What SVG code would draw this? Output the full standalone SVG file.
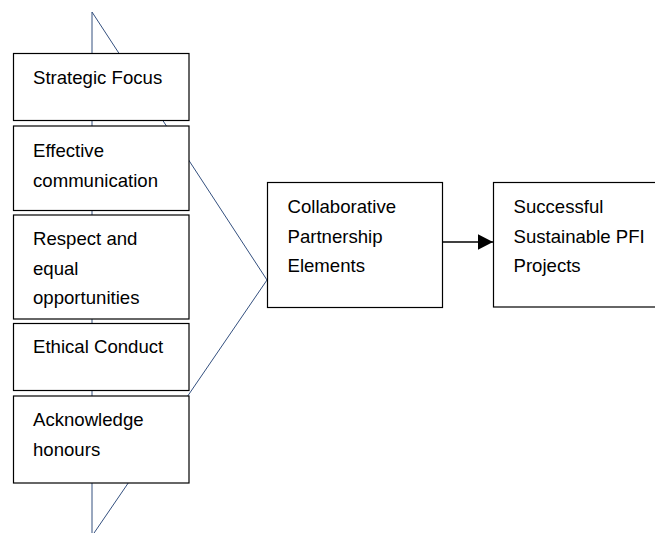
<svg xmlns="http://www.w3.org/2000/svg" width="655" height="533" viewBox="0 0 655 533">
  <style>
    .box { fill: #ffffff; stroke: #000000; stroke-width: 1.2; }
    .lbl { font-family: "Liberation Sans", Arial, sans-serif; font-size: 18.6px; fill: #000000; }
    .bracket { fill: none; stroke: #34507f; stroke-width: 1; }
    .arrow { fill: none; stroke: #000000; stroke-width: 1.3; }
  </style>
  <defs>
    <marker id="head" markerWidth="16" markerHeight="16" refX="15.5" refY="8" orient="auto" markerUnits="userSpaceOnUse">
      <path d="M0,0 L15.5,8 L0,16 Z" fill="#000000"/>
    </marker>
  </defs>

  <g id="connectors">
    <!-- triangle bracket gathering the five elements -->
    <path class="bracket" d="M92,12 L92,540 M92,12 L267,280 L92,536"/>
    <!-- arrow to outcome -->
    <line class="arrow" x1="442" y1="242" x2="493" y2="242" marker-end="url(#head)"/>
  </g>

  <g id="strategic-focus">
    <rect class="box" x="13.5" y="53.5" width="175.5" height="67"/>
    <text class="lbl" x="33" y="84">Strategic Focus</text>
  </g>

  <g id="effective-communication">
    <rect class="box" x="13.5" y="126" width="175.5" height="84.5"/>
    <text class="lbl" x="33" y="157">Effective</text>
    <text class="lbl" x="33" y="186.5">communication</text>
  </g>

  <g id="respect-equal-opportunities">
    <rect class="box" x="13.5" y="215" width="175.5" height="104"/>
    <text class="lbl" x="33" y="245">Respect and</text>
    <text class="lbl" x="33" y="274.5">equal</text>
    <text class="lbl" x="33" y="304">opportunities</text>
  </g>

  <g id="ethical-conduct">
    <rect class="box" x="13.5" y="323.5" width="175.5" height="67"/>
    <text class="lbl" x="33" y="353">Ethical Conduct</text>
  </g>

  <g id="acknowledge-honours">
    <rect class="box" x="13.5" y="396" width="175.5" height="87"/>
    <text class="lbl" x="33" y="426">Acknowledge</text>
    <text class="lbl" x="33" y="455.5">honours</text>
  </g>

  <g id="collaborative-partnership">
    <rect class="box" x="267.5" y="182.5" width="175" height="125"/>
    <text class="lbl" x="287.5" y="213">Collaborative</text>
    <text class="lbl" x="287.5" y="242.5">Partnership</text>
    <text class="lbl" x="287.5" y="272">Elements</text>
  </g>

  <g id="successful-pfi-projects">
    <rect class="box" x="493.5" y="182.5" width="175" height="124.5"/>
    <text class="lbl" x="513.5" y="213">Successful</text>
    <text class="lbl" x="513.5" y="242.5">Sustainable PFI</text>
    <text class="lbl" x="513.5" y="272">Projects</text>
  </g>
</svg>
